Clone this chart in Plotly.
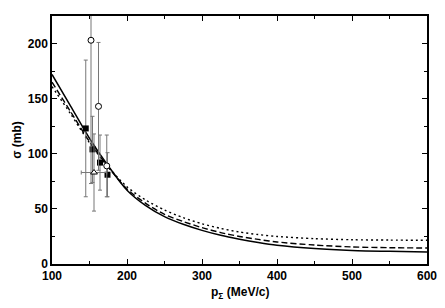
import plotly.graph_objects as go

# Theory curves
curve_x = [100, 125, 150, 175, 200, 225, 250, 275, 300, 325, 350, 375, 400, 450, 500, 550, 600]
solid_y = [172, 143, 114, 89, 67, 53, 43, 36, 30.5, 26, 22.5, 19.5, 17, 14, 12.3, 11.5, 11]
dashed_y = [165, 138, 111, 88, 68, 55, 45, 38.5, 33, 28.5, 25, 22.3, 20, 17.2, 15.5, 14.8, 14.5]
dotted_y = [161, 136, 110, 88, 70, 58, 49, 42, 36.5, 32.3, 29, 26.7, 25, 23, 22, 21.7, 21.5]

# Data: filled squares
sq_x = [145, 154, 164, 174]
sq_y = [123, 104, 92, 81]
sq_err = [62, 30, 25, 20]
sq_errx = [2, 2, 2, 2]

# Data: open circles
ci_x = [152, 162, 173]
ci_y = [203, 143, 89]
ci_err = [130, 58, 28]
ci_errx = [3, 3, 3]

# Data: open triangle
tr_x = [156]
tr_y = [83]
tr_err = [35]
tr_errx = [17]

fig = go.Figure()

fig.add_trace(go.Scatter(x=curve_x, y=solid_y, mode="lines", line=dict(color="black", width=1.5, shape="spline", smoothing=0.8), showlegend=False))
fig.add_trace(go.Scatter(x=curve_x, y=dashed_y, mode="lines", line=dict(color="black", width=1.4, dash="6px,3px", shape="spline", smoothing=0.8), showlegend=False))
fig.add_trace(go.Scatter(x=curve_x, y=dotted_y, mode="lines", line=dict(color="black", width=1.4, dash="2px,3px", shape="spline", smoothing=0.8), showlegend=False))

errc = "#777777"
fig.add_trace(go.Scatter(x=sq_x, y=sq_y, mode="markers",
                         marker=dict(symbol="square", size=6, color="black"),
                         error_y=dict(type="data", array=sq_err, color=errc, thickness=1, width=2),
                         error_x=dict(type="data", array=sq_errx, color=errc, thickness=1, width=2),
                         showlegend=False))
fig.add_trace(go.Scatter(x=ci_x, y=ci_y, mode="markers",
                         marker=dict(symbol="circle", size=6, color="white", line=dict(width=1, color="black")),
                         error_y=dict(type="data", array=ci_err, color=errc, thickness=1, width=2),
                         error_x=dict(type="data", array=ci_errx, color=errc, thickness=1, width=2),
                         showlegend=False))
fig.add_trace(go.Scatter(x=tr_x, y=tr_y, mode="markers",
                         marker=dict(symbol="triangle-up", size=6, color="white", line=dict(width=1, color="black")),
                         error_y=dict(type="data", array=tr_err, color=errc, thickness=1, width=2),
                         error_x=dict(type="data", array=tr_errx, color=errc, thickness=1, width=2),
                         showlegend=False))

font = dict(family="Liberation Sans, Arial, sans-serif", size=12, color="black", weight="bold")

fig.update_layout(
    width=445, height=308,
    margin=dict(l=52, r=18, t=16, b=44),
    paper_bgcolor="white", plot_bgcolor="white",
    xaxis=dict(range=[100, 600], tickvals=[100, 200, 300, 400, 500, 600],
               ticks="inside", ticklen=5, tickwidth=1, tickcolor="black",
               minor=dict(tickvals=[150, 250, 350, 450, 550], ticks="inside", ticklen=3, tickcolor="black"),
               showline=True, linecolor="black", linewidth=1.5, mirror="ticks",
               showgrid=False, zeroline=False, tickfont=font, automargin=False),
    yaxis=dict(range=[0, 225], tickvals=[0, 50, 100, 150, 200],
               ticks="inside", ticklen=5, tickwidth=1, tickcolor="black",
               minor=dict(tickvals=[25, 75, 125, 175, 225], ticks="inside", ticklen=3, tickcolor="black"),
               showline=True, linecolor="black", linewidth=1.5, mirror="ticks",
               showgrid=False, zeroline=False, tickfont=font, automargin=False),
    annotations=[
        dict(text="p<sub>Σ</sub> (MeV/c)", xref="paper", yref="paper", x=0.5, y=-0.075,
             xanchor="center", yanchor="top", showarrow=False, font=font),
        dict(text="σ (mb)", xref="paper", yref="paper", x=-0.07, y=0.5, textangle=-90,
             xanchor="right", yanchor="middle", showarrow=False, font=font),
    ],
)

fig.write_html("out.html", config={"displayModeBar": False},
               post_script="document.body.style.margin='0';")
